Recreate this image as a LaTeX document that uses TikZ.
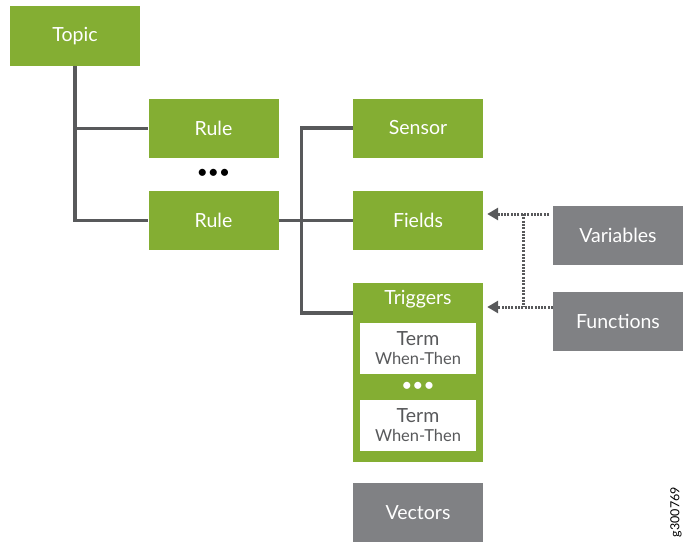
\documentclass[tikz,border=0pt]{standalone}
\usepackage{fontspec}
\setmainfont{Lato}
\usepackage{xcolor}
\usepackage{tikz}
\usetikzlibrary{arrows.meta,calc,positioning}

\definecolor{jgreen}{HTML}{84AE33}
\definecolor{jgray}{HTML}{808184}
\definecolor{jline}{HTML}{58595B}

\begin{document}
\begin{tikzpicture}[>={Triangle[length=11pt,width=12pt]},x=1pt,y=-1pt]
\tikzstyle{gbox}=[rectangle,fill=jgreen,text=white,minimum width=130pt,minimum height=59pt,
                  inner sep=0pt,font=\fontsize{19.5}{22}\selectfont]
\tikzstyle{graybox}=[gbox,fill=jgray]
\tikzstyle{termbox}=[rectangle,fill=white,text=jline,minimum width=116pt,minimum height=51pt,
                     inner sep=0pt,align=center,font=\fontsize{19.5}{21}\selectfont]
\tikzstyle{tree}=[line width=3.3pt,jline]
\tikzstyle{dotline}=[line width=3pt,jline,dash pattern=on 2pt off 1.3pt]
\tikzstyle{dotarrow}=[dotline,->]

\useasboundingbox (0,0) rectangle (683,546);

% --- Topic and rules ---
\node[gbox,minimum height=60pt] (topic) at (75,36) {Topic};
\node[gbox] (rule1) at (213.5,128.5) {Rule};
\node[font=\fontsize{19}{19}\selectfont] (ruledots) at (213.5,174) {\textbullet\textbullet\textbullet};
\node[gbox] (rule2) at (213.5,220.5) {Rule};

% --- Rule parts ---
\node[gbox] (sensor) at (418,128) {Sensor};
\node[gbox] (fields) at (418,220.5) {Fields};
\node[gbox,minimum height=179pt] (triggers) at (418,372.5) {};
\node[text=white,font=\fontsize{19.5}{22}\selectfont] (trighead) at (418,299) {Triggers};
\node[termbox] (term1) at (418,348.5) {Term\\[-2pt]{\fontsize{16.5}{18}\selectfont When-Then}};
\node[text=white,font=\fontsize{19}{19}\selectfont] (termdots) at (418,387) {\textbullet\textbullet\textbullet};
\node[termbox] (term2) at (418,425) {Term\\[-2pt]{\fontsize{16.5}{18}\selectfont When-Then}};
\node[graybox] (vectors) at (418,512.5) {Vectors};

% --- Inputs ---
\node[graybox] (vars) at (618,235.5) {Variables};
\node[graybox] (funcs) at (618,321.5) {Functions};

\node[rotate=90,font=\fontsize{12.5}{12.5}\selectfont] (figid) at (676,512) {g300769};

% --- Tree lines ---
\coordinate (trigin) at (353,313);
\draw[tree] (topic.south) |- (rule1.west);
\draw[tree] (topic.south) |- (rule2.west);
\draw[tree] (rule2.east) -- (fields.west);
\draw[tree] (sensor.west) -- ++(-51,0) |- (trigin);

% --- Dotted arrows ---
\coordinate (vin) at (549,214);
\coordinate (fin) at (553,307);
\coordinate (vjoin) at (523,214);
\coordinate (fjoin) at (523,307);
\draw[dotarrow] (vin) -- ([xshift=4pt]fields.east |- vin);
\draw[dotarrow] (fin) -- ([xshift=4pt]triggers.east |- fin);
\draw[dotline] (vjoin) -- (fjoin);

\end{tikzpicture}
\end{document}
